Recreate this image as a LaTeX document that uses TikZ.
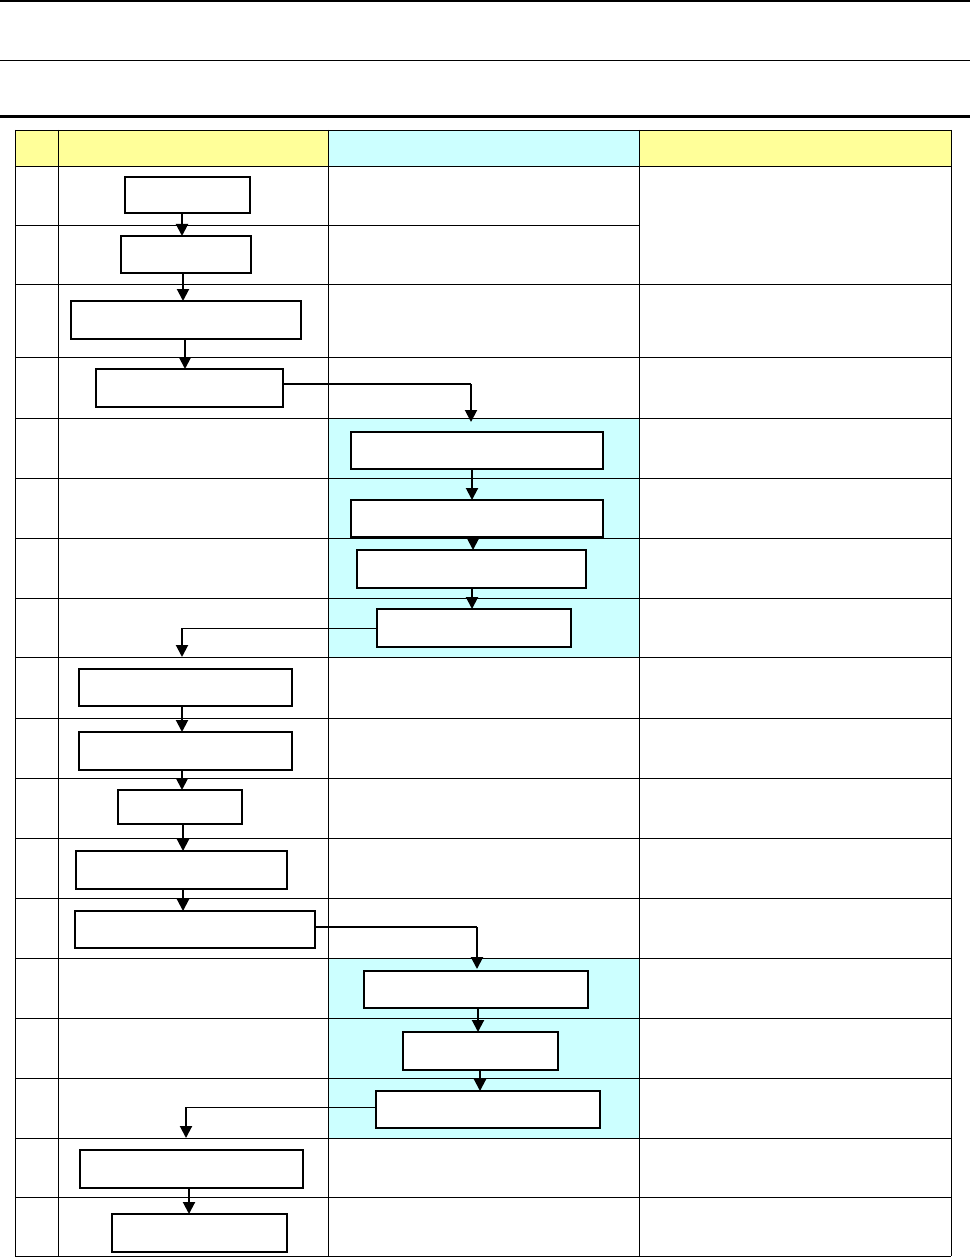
\documentclass[tikz,border=0pt]{standalone}
\usetikzlibrary{arrows.meta}
\definecolor{hdryellow}{HTML}{FFFF99}
\definecolor{lanecyan}{HTML}{CCFFFF}
\tikzset{
  box/.style={draw, fill=white, line width=1.3pt, inner sep=0pt, outer sep=0pt, anchor=north west},
  arr/.style={line width=2pt, -{Triangle[width=12pt,length=12pt]}},
  link/.style={line width=2pt},
  thinlink/.style={line width=1pt},
  grid/.style={line width=0.9pt},
}
\begin{document}
\begin{tikzpicture}[x=1pt,y=-1pt]
\useasboundingbox (0,0) rectangle (970,1257);
% top rules
\draw[line width=2pt] (0,1) -- (970,1);
\draw[line width=1pt] (0,61) -- (970,61);
\draw[line width=2.5pt] (0,116.5) -- (970,116.5);
% fills
\fill[hdryellow] (15,130) rectangle (328,166);
\fill[lanecyan] (328,130) rectangle (639,166);
\fill[hdryellow] (639,130) rectangle (951,166);
\fill[lanecyan] (328,418) rectangle (639,657);
\fill[lanecyan] (328,958) rectangle (639,1138);
% grid
\draw[grid] (15,130) -- (951,130);
\foreach \yy in {166,284,357,418,478,538,598,657,718,778,838,898,958,1018,1078,1138,1197,1256}
  \draw[grid] (15,\yy) -- (951,\yy);
\draw[grid] (15,225) -- (639,225);
\foreach \xx in {15,58,328,639,951}
  \draw[grid] (\xx,130) -- (\xx,1256);
% boxes
\node[box, minimum width=125pt, minimum height=36pt] (b1) at (125,177) {};
\node[box, minimum width=130pt, minimum height=37pt] (b2) at (121,236) {};
\node[box, minimum width=230pt, minimum height=38pt] (b3) at (71,301) {};
\node[box, minimum width=187pt, minimum height=38pt] (b4) at (96,369) {};
\node[box, minimum width=252pt, minimum height=37pt] (b5) at (351,432) {};
\node[box, minimum width=252pt, minimum height=37pt] (b6) at (351,500) {};
\node[box, minimum width=229pt, minimum height=38pt] (b7) at (357,550) {};
\node[box, minimum width=194pt, minimum height=38pt] (b8) at (377,609) {};
\node[box, minimum width=213pt, minimum height=37pt] (b9) at (79,669) {};
\node[box, minimum width=213pt, minimum height=38pt] (b10) at (79,732) {};
\node[box, minimum width=124pt, minimum height=34pt] (b11) at (118,790) {};
\node[box, minimum width=211pt, minimum height=38pt] (b12) at (76,851) {};
\node[box, minimum width=240pt, minimum height=37pt] (b13) at (75,911) {};
\node[box, minimum width=224pt, minimum height=37pt] (b14) at (364,971) {};
\node[box, minimum width=155pt, minimum height=38pt] (b15) at (403,1032) {};
\node[box, minimum width=224pt, minimum height=37pt] (b16) at (376,1091) {};
\node[box, minimum width=223pt, minimum height=38pt] (b17) at (80,1150) {};
\node[box, minimum width=175pt, minimum height=38pt] (b18) at (112,1214) {};
% free ends
\coordinate (t5) at (471,422);
\coordinate (t9) at (182,657);
\coordinate (t14) at (477,969);
\coordinate (t17) at (186,1138);
% vertical arrows
\draw[arr] (b1.south -| 182,0) -- (b2.north -| 182,0);
\draw[arr] (b2.south -| 183,0) -- (b3.north -| 183,0);
\draw[arr] (b3.south -| 185,0) -- (b4.north -| 185,0);
\draw[link] (b4.east |- 0,384) -- (471,384);
\draw[arr] (471,384) -- (t5);
\draw[arr] (b5.south -| 472,0) -- (b6.north -| 472,0);
\draw[arr] (b6.south -| 473,0) -- (b7.north -| 473,0);
\draw[arr] (b7.south -| 472,0) -- (b8.north -| 472,0);
\draw[thinlink] (b8.west |- 0,628) -- (182,628);
\draw[arr] (182,628) -- (t9);
\draw[arr] (b9.south -| 182,0) -- (b10.north -| 182,0);
\draw[arr] (b10.south -| 182,0) -- (b11.north -| 182,0);
\draw[arr] (b11.south -| 183,0) -- (b12.north -| 183,0);
\draw[arr] (b12.south -| 183,0) -- (b13.north -| 183,0);
\draw[link] (b13.east |- 0,927) -- (477,927);
\draw[arr] (477,927) -- (t14);
\draw[arr] (b14.south -| 478,0) -- (b15.north -| 478,0);
\draw[arr] (b15.south -| 480,0) -- (b16.north -| 480,0);
\draw[thinlink] (b16.west |- 0,1107) -- (186,1107);
\draw[arr] (186,1107) -- (t17);
\draw[arr] (b17.south -| 189,0) -- (b18.north -| 189,0);
\end{tikzpicture}
\end{document}
